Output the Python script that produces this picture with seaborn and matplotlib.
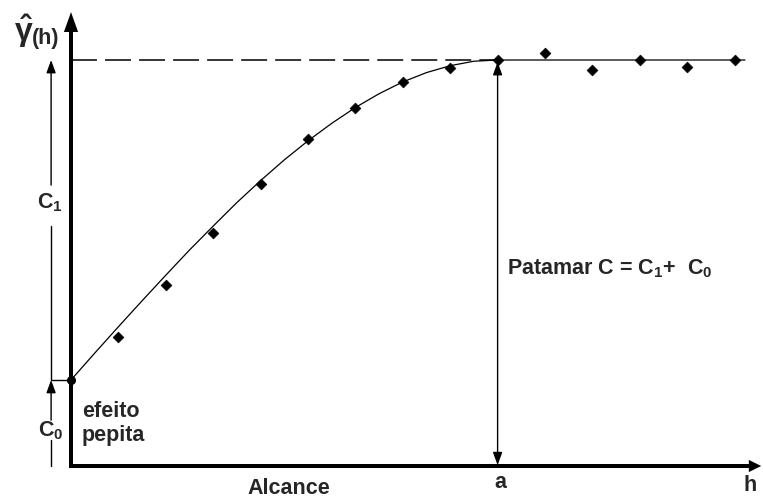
import matplotlib
matplotlib.use("Agg")
import matplotlib.pyplot as plt
import seaborn as sns
import pandas as pd

# ---- data ----
lags = [1, 2, 3, 4, 5, 6, 7, 8, 9, 10, 11, 12, 13, 14]
semivariance = [3.18, 4.45, 5.74, 6.95, 8.05, 8.82, 9.45, 9.80, 10.0, 10.18, 9.75, 10.0, 9.83, 10.0]

curve_h = [0, 0.5, 1, 1.5, 2, 2.5, 3, 3.5, 4, 4.5, 5, 5.5, 6, 6.5, 7, 7.5, 8, 8.5, 9, 14.22]
curve_g = [2.12, 2.78, 3.43, 4.07, 4.70, 5.32, 5.91, 6.49, 7.03, 7.54, 8.01, 8.44, 8.83, 9.17,
           9.46, 9.69, 9.86, 9.97, 10.0, 10.0]

nugget = 2.12      # C0
sill = 10.0        # C = C1 + C0
range_a = 9        # a

# ---- style ----
sns.set_theme(style="white")
plt.rcParams["font.family"] = ["Liberation Sans", "DejaVu Sans"]
plt.rcParams["font.weight"] = "bold"
plt.rcParams["mathtext.fontset"] = "dejavusans"
plt.rcParams["mathtext.default"] = "regular"
plt.rcParams["lines.scale_dashes"] = False

fig = plt.figure(figsize=(7.63, 4.98), dpi=100)
ax = fig.add_axes([0, 0, 1, 1])
ax.set_xlim(-1.498, 14.599)
ax.set_ylim(-0.788, 11.478)
ax.axis("off")

FS = 15.5

# model curve
df_curve = pd.DataFrame({"h": curve_h, "g": curve_g})
sns.lineplot(data=df_curve, x="h", y="g", ax=ax, color="black", lw=0.9,
             sort=False, estimator=None, zorder=3)

# sill dashed reference
ax.plot([0, range_a], [sill, sill], color="black", lw=1.1, dashes=(18.7, 5.8), zorder=2)

# experimental points
df_pts = pd.DataFrame({"h": lags, "g": semivariance})
sns.scatterplot(data=df_pts, x="h", y="g", ax=ax, marker="D", s=30, color="black",
                edgecolor="black", linewidth=0.5, zorder=5)

# nugget point
ax.plot([0], [nugget], marker="o", ms=5.5, color="black", zorder=6)
ax.plot([-0.40, 0], [nugget, nugget], color="black", lw=1.0, zorder=2)

# axes with arrows
ax.arrow(-0.04, 0, 14.60, 0, width=0.0985, head_width=0.30, head_length=0.26,
         length_includes_head=True, color="black", lw=0, zorder=4)
ax.arrow(0, -0.05, 0, 11.23, width=0.084, head_width=0.30, head_length=0.49,
         length_includes_head=True, color="black", lw=0, zorder=4)

arrow_kw = dict(arrowstyle="-|>,head_length=0.55,head_width=0.2", color="black",
                lw=1.0, shrinkA=0, shrinkB=0, mutation_scale=14)

# C1 arrow (with gap for label)
xc = -0.42
ax.plot([xc, xc], [nugget, 5.91], color="black", lw=1.0)
ax.annotate("", xy=(xc, sill), xytext=(xc, 6.92), arrowprops=arrow_kw)
# C0 arrow
ax.plot([xc, xc], [0, 0.64], color="black", lw=1.0)
ax.annotate("", xy=(xc, nugget), xytext=(xc, 1.13), arrowprops=arrow_kw)

# Patamar double arrow at range a
ax.annotate("", xy=(range_a, sill - 0.05), xytext=(range_a, 0.02),
            arrowprops=dict(arrowstyle="<|-|>,head_length=0.55,head_width=0.2",
                            color="black", lw=1.0, shrinkA=0, shrinkB=0,
                            mutation_scale=14))

# labels
ax.text(-1.0, 10.70, r"$\hat{\gamma}$", fontsize=23, ha="center", va="center")
ax.text(-0.53, 10.52, "(h)", fontsize=FS, ha="center", va="center")
ax.text(-0.44, 6.48, r"C$_1$", fontsize=FS, ha="center", va="center")
ax.text(-0.43, 0.87, r"C$_0$", fontsize=FS, ha="center", va="center")
ax.text(0.23, 1.21, "efeito", fontsize=FS, ha="left", va="baseline")
ax.text(0.23, 0.62, "pepita", fontsize=FS, ha="left", va="baseline")
ax.text(9.20, 4.73, r"Patamar C = C$_1$+  C$_0$", fontsize=FS, ha="left", va="baseline")
ax.text(3.73, -0.69, "Alcance", fontsize=FS, ha="left", va="baseline")
ax.text(9.05, -0.54, "a", fontsize=FS, ha="center", va="baseline")
ax.text(14.33, -0.62, "h", fontsize=FS, ha="center", va="baseline")

fig.savefig("out.png", dpi=100)
